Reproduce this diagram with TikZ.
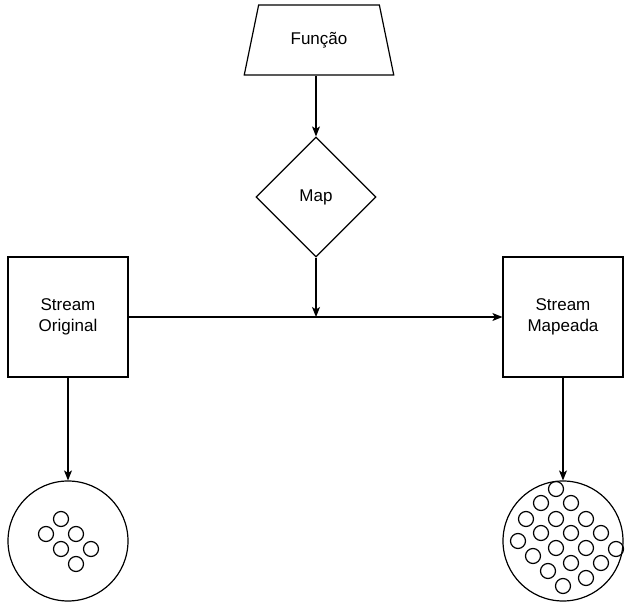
\documentclass[tikz,border=0pt]{standalone}
\usepackage{fontspec}
\setmainfont{Liberation Sans}
\usepackage{tikz}
\usetikzlibrary{arrows.meta,positioning,shapes.geometric}

\begin{document}
\begin{tikzpicture}[x=1pt,y=-1pt,line width=1.2pt,
		font=\fontsize{17}{21}\selectfont,
		flowarrow/.style={-{Stealth[length=10pt,width=8pt,inset=2.5pt]}},
		streambox/.style={draw,minimum width=120pt,minimum height=120pt,align=center,inner sep=0pt},
		bucket/.style={draw,circle,minimum size=120pt,inner sep=0pt}]
			\useasboundingbox (0,0) rectangle (633,612);
			
			\node[draw,trapezium,trapezium stretches=true,trapezium left angle=66.8,trapezium right angle=66.8,
				minimum width=150pt,minimum height=70pt,inner sep=0pt] (funcao) at (319,40) {Função};
			
			\node[draw,diamond,minimum width=120pt,minimum height=120pt,inner sep=0pt] (map) at (316,197) {Map};
			
			\node[streambox] (original) at (68,317) {Stream\\Original};
			\node[streambox] (mapeada) at (563,317) {Stream\\Mapeada};
			
			\node[bucket] (elemorig) at (68,541) {};
			\node[bucket] (elemmap) at (563,541) {};
			
			\coordinate (juncao) at (map.south |- original.east);
			
			\draw[flowarrow] (funcao.south -| map.north) -- (map.north);
			\draw[flowarrow] (map.south) -- (juncao);
			\draw[flowarrow] (original.east) -- (mapeada.west);
			\draw[flowarrow] (original.south) -- (elemorig.north);
			\draw[flowarrow] (mapeada.south) -- (elemmap.north);
			
			% elementos da stream original
			\foreach \px/\py in {61/519,46/534,76/534,61/549,91/549,76/564}
				\draw (\px,\py) circle (7.5);
			
			% elementos da stream mapeada
			\foreach \px/\py in {556/489,541/503,571/503,526/519,556/519,586/519,541/533,571/533,601/533,
				518/541,556/548,586/548,616/549,533/556,571/563,601/563,548/571,586/578,563/586}
				\draw (\px,\py) circle (7.5);
			
		\end{tikzpicture}
\end{document}
